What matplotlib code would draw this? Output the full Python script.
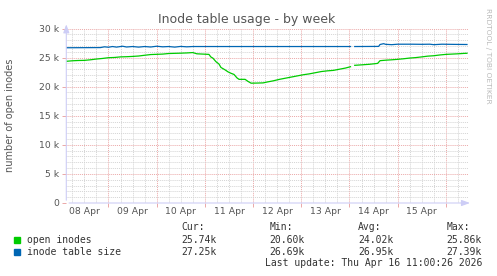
import numpy as np
import matplotlib
matplotlib.use("Agg")
import matplotlib.pyplot as plt
from matplotlib.patches import Rectangle

# ---- data (hours since 08 Apr 00:00) ----
green_t = [3, 6, 9, 12, 15, 18, 21, 24, 27, 30, 33, 36, 39, 42, 45, 48, 51, 54, 57, 60, 63, 66,
           68, 71, 74, 75, 76, 77.5, 79, 80, 82, 83.5, 85, 86.5, 88, 89, 92, 93.5, 95, 98, 101,
           103, 106, 109, 112, 115, 118, 121, 124, 127, 130, 133, 136, 139, 142, 144.5, 145.5,
           146.6, 150, 154, 158, 159.2, 162, 165, 168, 171, 174, 177, 180, 183, 186, 189, 192,
           195, 198, 201, 202.5]
green_v = [24.36, 24.45, 24.50, 24.52, 24.62, 24.75, 24.85, 24.98, 25.02, 25.12, 25.15, 25.2,
           25.27, 25.4, 25.52, 25.56, 25.6, 25.7, 25.73, 25.76, 25.8, 25.86,
           25.65, 25.6, 25.55, 25.1, 24.9, 24.3, 23.9, 23.3, 22.9, 22.55, 22.3, 22.1, 21.5, 21.26,
           21.26, 20.9, 20.6, 20.62, 20.65, 20.8, 21.0, 21.25, 21.45, 21.65, 21.85, 22.05, 22.2,
           22.4, 22.6, 22.72, 22.8, 23.0, 23.2, 23.43, np.nan,
           23.67, 23.75, 23.85, 24.0, 24.47, 24.55, 24.62, 24.7, 24.8, 24.92, 25.0, 25.12, 25.25,
           25.32, 25.45, 25.55, 25.6, 25.65, 25.72, 25.74]

blue_t = [3, 20, 22, 24, 26, 28, 31, 33, 36, 39, 42, 45, 48, 51, 54, 57, 60, 63, 66, 70, 100,
          130, 144.5, 145.5, 146.6, 158.5, 159.2, 161, 162, 165, 168, 175, 180, 184, 186, 190,
          196, 202.5]
blue_v = [26.69, 26.72, 26.85, 26.78, 26.9, 26.8, 26.95, 26.82, 26.9, 26.8, 26.9, 26.82, 26.95,
          26.85, 26.9, 26.8, 26.92, 26.85, 26.9, 26.9, 26.9, 26.9, 26.9, np.nan, 26.9, 26.92,
          27.25, 27.39, 27.28, 27.22, 27.3, 27.3, 27.28, 27.3, 27.22, 27.3, 27.27, 27.25]

day_labels = ["08 Apr", "09 Apr", "10 Apr", "11 Apr", "12 Apr", "13 Apr", "14 Apr", "15 Apr"]
ytick_vals = [0, 5, 10, 15, 20, 25, 30]
ytick_labels = ["0", "5 k", "10 k", "15 k", "20 k", "25 k", "30 k"]

legend_names = ["open inodes", "inode table size"]
legend_cur = ["25.74k", "27.25k"]
legend_min = ["20.60k", "26.69k"]
legend_avg = ["24.02k", "26.95k"]
legend_max = ["25.86k", "27.39k"]

GREEN = "#00CC00"
BLUE = "#0066B3"
RED_GRID = "#EBA8A8"
GRAY_GRID = "#D4D4D4"
AXIS = "#CDCDF6"
TXT = "#555555"

W, H = 497, 276
fig = plt.figure(figsize=(W / 100, H / 100), dpi=100)
fig.patch.set_facecolor("white")

L, R, T, B = 66.3, 468, 28.5, 203
ax = fig.add_axes([L / W, 1 - B / H, (R - L) / W, (B - T) / H])
ax.set_xlim(3, 203)
ax.set_ylim(0, 30)
for s in ax.spines.values():
    s.set_visible(False)

ax.plot(green_t, green_v, color=GREEN, lw=0.9, zorder=3)
ax.plot(blue_t, blue_v, color=BLUE, lw=0.9, zorder=3)

# grid
ax.set_yticks(ytick_vals)
ax.set_yticklabels(ytick_labels)
ax.set_yticks(np.arange(0, 31, 1), minor=True)
ax.set_xticks(np.arange(24, 203, 24))
ax.set_xticklabels([])
ax.set_xticks(np.arange(6, 203, 6), minor=True)
ax.grid(which="major", color=RED_GRID, ls=(0, (1, 1)), lw=0.7, zorder=1)
ax.grid(which="minor", color=GRAY_GRID, ls=(0, (1, 1)), lw=0.7, zorder=0)
ax.tick_params(which="major", length=3, width=0.7, color=RED_GRID, labelsize=6.7,
               labelcolor=TXT, pad=2)
ax.tick_params(which="minor", length=0)

for i, lab in enumerate(day_labels):
    ax.text(12 + 24 * i, -1.45, lab, ha="center", va="center", fontsize=6.7, color=TXT)

# axes lines with arrows
ax.annotate("", xy=(0, 1.04), xytext=(0, 0), xycoords="axes fraction",
            arrowprops=dict(arrowstyle="-|>,head_width=0.18,head_length=0.5", color=AXIS, lw=0.8),
            annotation_clip=False)
ax.annotate("", xy=(1.012, 0), xytext=(0, 0), xycoords="axes fraction",
            arrowprops=dict(arrowstyle="-|>,head_width=0.18,head_length=0.5", color=AXIS, lw=0.8),
            annotation_clip=False)

# texts
fig.text(247 / W, 1 - 19 / H, "Inode table usage - by week", ha="center", va="center",
         fontsize=9, color=TXT)
fig.text(10 / W, 1 - 115 / H, "number of open inodes", rotation=90, ha="center", va="center",
         fontsize=7, color=TXT)
fig.text(488 / W, 1 - 56 / H, "RRDTOOL / TOBI OETIKER", rotation=270, ha="center", va="center",
         fontsize=5.4, color="#BBBBBB")

mono = dict(family="DejaVu Sans Mono", fontsize=7, color="#333333", va="center")
cols_x = [181.7, 269.3, 358.3, 446.7]
for x, h in zip(cols_x, ["Cur:", "Min:", "Avg:", "Max:"]):
    fig.text(x / W, 1 - 227.5 / H, h, **mono)
rows_y = [240, 252]
for y, name, c, cu, mi, av, ma in zip(rows_y, legend_names, [GREEN, BLUE], legend_cur,
                                      legend_min, legend_avg, legend_max):
    fig.patches.append(Rectangle((14 / W, 1 - (y + 3) / H), 6 / W, 6 / H, color=c,
                                 transform=fig.transFigure, figure=fig))
    fig.text(26.7 / W, 1 - y / H, name, **mono)
    for x, v in zip(cols_x, [cu, mi, av, ma]):
        fig.text(x / W, 1 - y / H, v, **mono)
fig.text(482.7 / W, 1 - 263.5 / H, "Last update: Thu Apr 16 11:00:26 2026",
         ha="right", **{k: v for k, v in mono.items()})

fig.savefig("out.png", dpi=100)
